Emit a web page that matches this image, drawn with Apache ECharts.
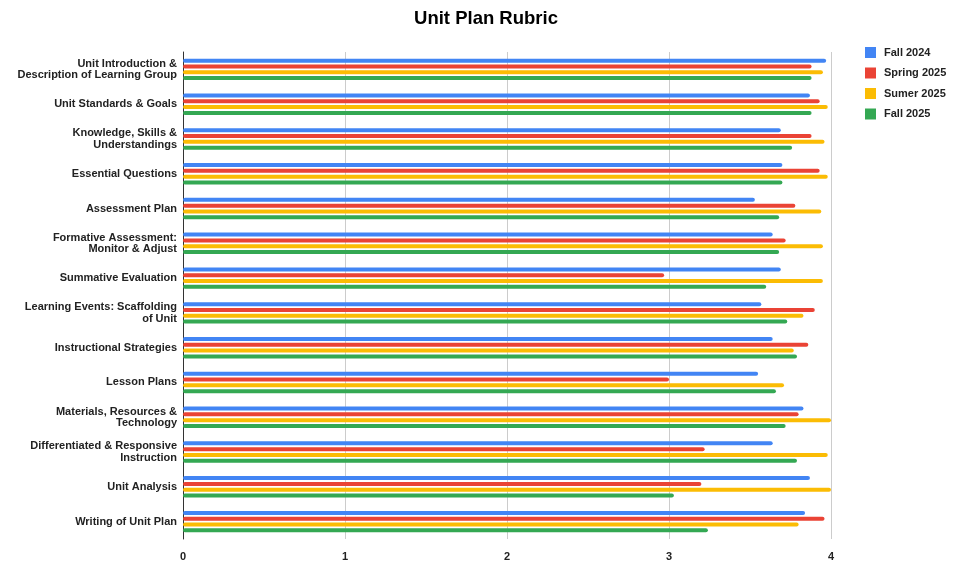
<!DOCTYPE html>
<html>
<head>
<meta charset="utf-8">
<script src="https://cdn.jsdelivr.net/npm/echarts@6/dist/echarts.min.js"></script>
<style>
  html, body { margin: 0; padding: 0; background: #fff; }
  #chart { width: 956px; height: 565px; }
</style>
</head>
<body>
<div id="chart"></div>
<script>
// Rubric criteria, listed top to bottom
const categories = [
  'Unit Introduction &\nDescription of Learning Group',
  'Unit Standards & Goals',
  'Knowledge, Skills &\nUnderstandings',
  'Essential Questions',
  'Assessment Plan',
  'Formative Assessment:\nMonitor & Adjust',
  'Summative Evaluation',
  'Learning Events: Scaffolding\nof Unit',
  'Instructional Strategies',
  'Lesson Plans',
  'Materials, Resources &\nTechnology',
  'Differentiated & Responsive\nInstruction',
  'Unit Analysis',
  'Writing of Unit Plan'
];

const seriesNames = ['Fall 2024', 'Spring 2025', 'Sumer 2025', 'Fall 2025'];

// Average scores per term (same order as categories)
const fall2024   = [3.97, 3.87, 3.69, 3.70, 3.53, 3.64, 3.69, 3.57, 3.64, 3.55, 3.83, 3.64, 3.87, 3.84];
const spring2025 = [3.88, 3.93, 3.88, 3.93, 3.78, 3.72, 2.97, 3.90, 3.86, 3.00, 3.80, 3.22, 3.20, 3.96];
const summer2025 = [3.95, 3.98, 3.96, 3.98, 3.94, 3.95, 3.95, 3.83, 3.77, 3.71, 4.00, 3.98, 4.00, 3.80];
const fall2025   = [3.88, 3.88, 3.76, 3.70, 3.68, 3.68, 3.60, 3.73, 3.79, 3.66, 3.72, 3.79, 3.03, 3.24];

const xTicks = [0, 1, 2, 3, 4];

const colors = ['#4285F4', '#EA4335', '#FBBC04', '#34A853'];
const font = 'Liberation Sans, Arial, sans-serif';

const chart = echarts.init(document.getElementById('chart'));

const values = [fall2024, spring2025, summer2025, fall2025];

chart.setOption({
  animation: false,
  color: colors,
  title: {
    text: 'Unit Plan Rubric',
    top: 4,
    left: 481,
    textAlign: 'center',
    textStyle: { fontFamily: font, fontSize: 18.5, fontWeight: 'bold', color: '#000' }
  },
  legend: {
    orient: 'vertical',
    left: 865,
    top: 47,
    padding: 0,
    itemWidth: 11,
    itemHeight: 11,
    itemGap: 9.5,
    icon: 'rect',
    data: seriesNames,
    textStyle: { fontFamily: font, fontSize: 11, fontWeight: 'bold', color: '#222', padding: [0, 0, 0, 3] }
  },
  grid: { left: 183, right: 125, top: 52, bottom: 26, containLabel: false },
  xAxis: {
    type: 'value',
    min: xTicks[0],
    max: xTicks[xTicks.length - 1],
    interval: 1,
    axisLine: { show: false },
    axisTick: { show: false },
    splitLine: { show: true, lineStyle: { color: '#cccccc', width: 1 } },
    axisLabel: {
      fontFamily: font, fontSize: 11, fontWeight: 'bold', color: '#222', margin: 12
    }
  },
  yAxis: {
    type: 'category',
    inverse: true,
    data: categories,
    axisLine: { show: true, lineStyle: { color: '#333', width: 1 } },
    axisTick: { show: false },
    axisLabel: {
      fontFamily: font, fontSize: 11, fontWeight: 'bold', color: '#222',
      lineHeight: 11.5, margin: 6, align: 'right'
    }
  },
  series: seriesNames.map((name, i) => ({
    name: name,
    type: 'bar',
    data: values[i],
    barWidth: 4,
    barGap: '45%',
    itemStyle: { color: colors[i], borderRadius: 2 }
  }))
});
</script>
</body>
</html>
